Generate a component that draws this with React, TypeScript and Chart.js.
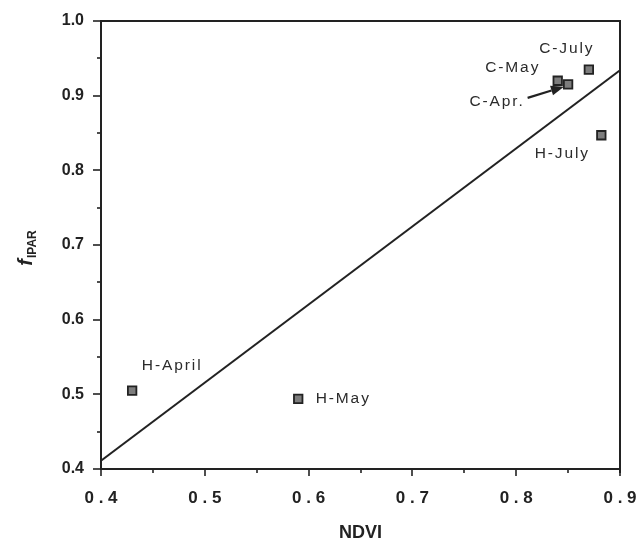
import React, { useEffect, useRef } from "react";
import { Chart, registerables } from "chart.js";

Chart.register(...registerables);

// ---- data ----
const pointNames = ["H-April", "H-May", "C-May", "C-Apr.", "C-July", "H-July"];
const ndvi = [0.43, 0.59, 0.84, 0.85, 0.87, 0.882];
const fipar = [0.505, 0.494, 0.92, 0.915, 0.935, 0.847];
const fitNdvi = [0.4, 0.9];
const fitFipar = [0.411, 0.934];
const xTickLabels = ["0 . 4", "0 . 5", "0 . 6", "0 . 7", "0 . 8", "0 . 9"];
const yTickLabels = ["0.4", "0.5", "0.6", "0.7", "0.8", "0.9", "1.0"];
// arrow (from C-Apr. label to its point), data coords
const arrowFrom = [0.811, 0.897];
const arrowTo = [0.846, 0.912];

const FONT = "'Liberation Sans', Arial, Helvetica, sans-serif";
const INK = "#222";

// label pixel offsets from the marker centre
const labelOffsets: Record<string, [number, number]> = {
  "H-April": [39, -25],
  "H-May": [44, 0],
  "C-May": [-46, -13],
  "C-Apr.": [-72, 17],
  "C-July": [-23, -21],
  "H-July": [-40, 18],
};

const decorPlugin = {
  id: "decor",
  afterDraw(chart: any) {
    const { ctx, chartArea } = chart;
    const xs = chart.scales.x;
    const ys = chart.scales.y;
    const { left, right, top, bottom } = chartArea;
    ctx.save();
    ctx.strokeStyle = INK;
    ctx.lineCap = "butt";
    // frame top and right
    ctx.lineWidth = 2;
    ctx.beginPath();
    ctx.moveTo(left - 1, top);
    ctx.lineTo(right, top);
    ctx.lineTo(right, bottom + 4);
    ctx.stroke();
    // tick marks
    ctx.lineWidth = 1.6;
    for (let i = 0; i <= 10; i++) {
      const v = 0.4 + i * 0.05;
      const px = Math.round(xs.getPixelForValue(v));
      const len = i % 2 === 0 ? 7 : 4;
      ctx.beginPath();
      ctx.moveTo(px, bottom);
      ctx.lineTo(px, bottom + len);
      ctx.stroke();
    }
    for (let i = 0; i <= 12; i++) {
      const v = 0.4 + i * 0.05;
      const py = Math.round(ys.getPixelForValue(v));
      const len = i % 2 === 0 ? 8 : 4;
      ctx.beginPath();
      ctx.moveTo(left, py);
      ctx.lineTo(left - len, py);
      ctx.stroke();
    }
    // x title
    ctx.fillStyle = INK;
    ctx.font = `bold 18px ${FONT}`;
    ctx.textAlign = "center";
    ctx.textBaseline = "middle";
    ctx.fillText("NDVI", (left + right) / 2, 533);
    // y title f_IPAR
    ctx.save();
    ctx.translate(27, 248);
    ctx.rotate(-Math.PI / 2);
    ctx.textAlign = "left";
    ctx.textBaseline = "alphabetic";
    ctx.font = `italic bold 20px ${FONT}`;
    const fW = ctx.measureText("f").width;
    ctx.font = `bold 12px ${FONT}`;
    const sW = ctx.measureText("IPAR").width;
    const total = fW + 1 + sW;
    ctx.font = `italic bold 20px ${FONT}`;
    ctx.fillText("f", -total / 2, 5);
    ctx.font = `bold 12px ${FONT}`;
    ctx.fillText("IPAR", -total / 2 + fW + 1, 9);
    ctx.restore();
    // point labels
    ctx.font = `15.5px ${FONT}`;
    (ctx as any).letterSpacing = "1.9px";
    ctx.fillStyle = "#2b2b2b";
    ctx.textAlign = "center";
    ctx.textBaseline = "middle";
    pointNames.forEach((name, i) => {
      const px = xs.getPixelForValue(ndvi[i]);
      const py = ys.getPixelForValue(fipar[i]);
      const off = labelOffsets[name] || [0, 0];
      ctx.fillText(name, px + off[0] + 1, py + off[1]);
    });
    (ctx as any).letterSpacing = "0px";
    // arrow
    const ax0 = xs.getPixelForValue(arrowFrom[0]);
    const ay0 = ys.getPixelForValue(arrowFrom[1]);
    const ax1 = xs.getPixelForValue(arrowTo[0]);
    const ay1 = ys.getPixelForValue(arrowTo[1]);
    const ang = Math.atan2(ay1 - ay0, ax1 - ax0);
    const headL = 13;
    const headW = 5;
    const bx = ax1 - headL * Math.cos(ang);
    const by = ay1 - headL * Math.sin(ang);
    ctx.strokeStyle = INK;
    ctx.lineWidth = 2.2;
    ctx.beginPath();
    ctx.moveTo(ax0, ay0);
    ctx.lineTo(bx, by);
    ctx.stroke();
    ctx.fillStyle = INK;
    ctx.beginPath();
    ctx.moveTo(ax1, ay1);
    ctx.lineTo(bx + headW * Math.sin(ang), by - headW * Math.cos(ang));
    ctx.lineTo(bx - headW * Math.sin(ang), by + headW * Math.cos(ang));
    ctx.closePath();
    ctx.fill();
    ctx.restore();
  },
};

export default function App() {
  const ref = useRef<HTMLCanvasElement | null>(null);
  useEffect(() => {
    if (!ref.current) return;
    const points = ndvi.map((x, i) => ({ x, y: fipar[i] }));
    const fit = fitNdvi.map((x, i) => ({ x, y: fitFipar[i] }));
    const chart = new Chart(ref.current, {
      type: "scatter",
      data: {
        datasets: [
          {
            type: "line",
            data: fit,
            borderColor: INK,
            borderWidth: 2,
            pointRadius: 0,
            fill: false,
            tension: 0,
          } as any,
          {
            data: points,
            pointStyle: "rect",
            pointRadius: 6,
            pointHoverRadius: 6,
            backgroundColor: "#7d7d7d",
            borderColor: "#222",
            borderWidth: 1.8,
          },
        ],
      },
      options: {
        responsive: false,
        animation: false,
        layout: { padding: { top: 21, right: 20, left: 0, bottom: 0 } },
        plugins: { legend: { display: false }, tooltip: { enabled: false } },
        scales: {
          x: {
            type: "linear",
            min: 0.4,
            max: 0.9,
            afterFit: (s: any) => {
              s.height = 73;
              s.paddingLeft = 0;
              s.paddingRight = 0;
            },
            ticks: {
              stepSize: 0.05,
              autoSkip: false,
              maxRotation: 0,
              padding: 12,
              color: "#222",
              font: { size: 17, weight: "bold", family: FONT },
              callback: (v: any) => {
                const r = Math.round(Number(v) * 100);
                if (r % 10 !== 0) return "";
                return xTickLabels[Math.round((Number(v) - 0.4) * 10)];
              },
            },
            grid: { display: false, drawTicks: true, tickLength: 7 },
            border: { display: true, color: INK, width: 2 },
          },
          y: {
            type: "linear",
            min: 0.4,
            max: 1.0,
            afterFit: (s: any) => {
              s.width = 101;
              s.paddingTop = 0;
              s.paddingBottom = 0;
            },
            ticks: {
              stepSize: 0.05,
              autoSkip: false,
              padding: 10,
              color: "#222",
              font: { size: 16, weight: "bold", family: FONT },
              callback: (v: any) => {
                const r = Math.round(Number(v) * 100);
                if (r % 10 !== 0) return "";
                return yTickLabels[Math.round((Number(v) - 0.4) * 10)];
              },
            },
            grid: { display: false, drawTicks: true, tickLength: 7 },
            border: { display: true, color: INK, width: 2 },
          },
        },
      },
      plugins: [decorPlugin],
    });
    return () => chart.destroy();
  }, []);
  return (
    <div style={{ position: "fixed", left: 0, top: 0, width: 640, height: 542, background: "#fff" }}>
      <canvas ref={ref} width={640} height={542} style={{ width: 640, height: 542, display: "block" }} />
    </div>
  );
}
